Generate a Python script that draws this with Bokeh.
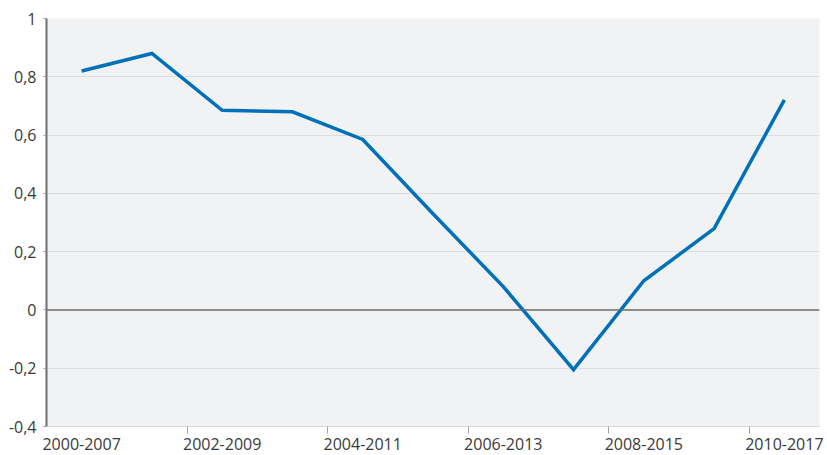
from bokeh.plotting import figure
from bokeh.models import FixedTicker, Span, Range1d, CustomJSTickFormatter
from bokeh.embed import file_html
from bokeh.resources import INLINE

# Data
periods = ["2000-2007", "2001-2008", "2002-2009", "2003-2010", "2004-2011", "2005-2012",
           "2006-2013", "2007-2014", "2008-2015", "2009-2016", "2010-2017"]
values = [0.82, 0.88, 0.685, 0.68, 0.585, 0.33, 0.08, -0.205, 0.10, 0.279, 0.721]
y_ticks = [-0.4, -0.2, 0, 0.2, 0.4, 0.6, 0.8, 1.0]

FONT = "Open Sans"
TEXT = "#3a3a3a"

x = list(range(len(periods)))

p = figure(
    width=827,
    height=455,
    x_range=Range1d(-0.5, len(periods) - 0.5),
    y_range=Range1d(-0.4, 1.0),
    output_backend="svg",
    toolbar_location=None,
    min_border_left=46,
    min_border_right=8,
    min_border_top=18,
    min_border_bottom=29,
)
p.outline_line_color = None
p.background_fill_color = "#f1f2f4"
p.border_fill_color = "white"

# y axis
p.yaxis.ticker = FixedTicker(ticks=y_ticks)
p.yaxis.formatter = CustomJSTickFormatter(
    code="return tick.toFixed(1).replace('.', ',').replace(/,0$/, '');")
p.yaxis.axis_line_color = "#6e6e6e"
p.yaxis.axis_line_width = 2
p.yaxis.major_tick_out = 3
p.yaxis.major_tick_in = 0
p.yaxis.major_tick_line_color = "#9a9a9a"
p.yaxis.minor_tick_line_color = None
p.yaxis.major_label_standoff = 7
p.yaxis.major_label_text_font = FONT
p.yaxis.major_label_text_font_size = "16px"
p.yaxis.major_label_text_color = TEXT

# x axis: labels on every other category, tick marks between categories
boundaries = [i + 0.5 for i in x[:-1]]
p.xaxis.ticker = FixedTicker(ticks=x[0::2], minor_ticks=boundaries[1::2])
p.xaxis.major_label_overrides = {i: periods[i] for i in x[0::2]}
p.xaxis.axis_line_color = "#d6d7d9"
p.xaxis.major_tick_out = 0
p.xaxis.major_tick_in = 0
p.xaxis.major_tick_line_color = None
p.xaxis.minor_tick_line_color = "#a0a0a0"
p.xaxis.minor_tick_out = 7
p.xaxis.minor_tick_in = 0
p.xaxis.major_label_standoff = 4
p.xaxis.major_label_text_font = FONT
p.xaxis.major_label_text_font_size = "16px"
p.xaxis.major_label_text_color = TEXT

# grid
p.xgrid.grid_line_color = None
p.ygrid.ticker = FixedTicker(ticks=[t for t in y_ticks if t not in (0, 1.0)])
p.ygrid.grid_line_color = "#dcdde0"
p.ygrid.grid_line_width = 1

p.add_layout(Span(location=0, dimension="width", line_color="#6b6b6b", line_width=1.5))

p.line(x, values, line_color="#0070b8", line_width=3.5, line_join="miter")

open("out.html", "w").write(file_html(p, INLINE))
